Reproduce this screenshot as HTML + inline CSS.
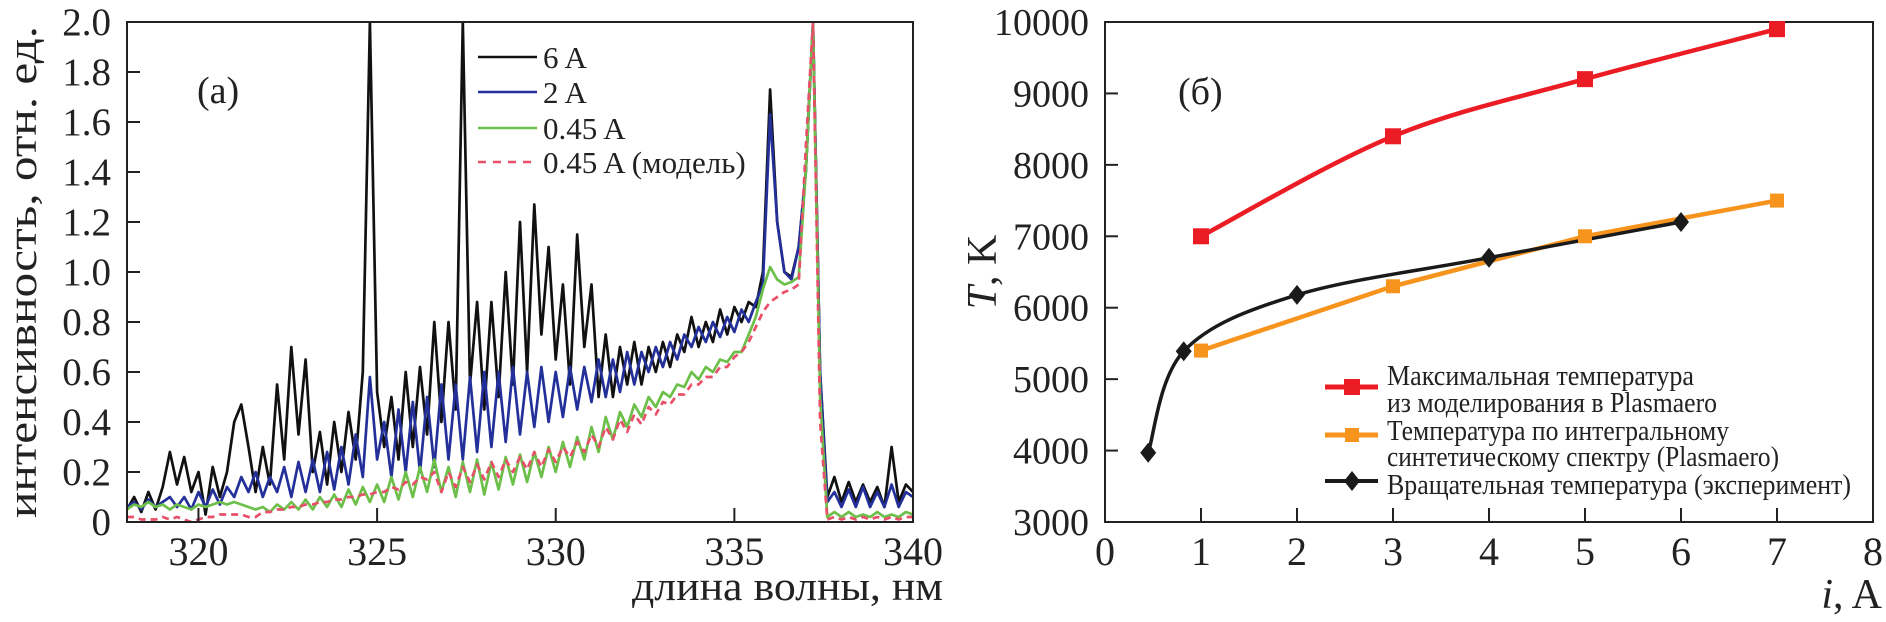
<!DOCTYPE html>
<html><head><meta charset="utf-8"><style>
html,body{margin:0;padding:0;background:#fff;}
svg{display:block;font-family:"Liberation Serif","DejaVu Serif",serif;}
</style></head><body>
<svg id="chart" width="1886" height="622" viewBox="0 0 1886 622" xmlns="http://www.w3.org/2000/svg">
<defs><clipPath id="clipA"><rect x="127" y="22" width="786" height="500"/></clipPath></defs>
<g id="panelA"></g>
<g id="panelB"></g>
</svg>
<script>
// ---------- Panel (a) data: intensity at 0.2 nm steps from 318 to 340 nm ----------
const waveStart = 318, waveStep = 0.2;
const xTicksA = [320, 325, 330, 335, 340];
const yTicksA = [0, 0.2, 0.4, 0.6, 0.8, 1.0, 1.2, 1.4, 1.6, 1.8, 2.0];
const yTickLabelsA = ["0","0.2","0.4","0.6","0.8","1.0","1.2","1.4","1.6","1.8","2.0"];
const series6A = [
0.05,0.10,0.04,0.12,0.05,0.14,0.28,0.15,0.26,0.12,
0.20,0.03,0.22,0.10,0.20,0.40,0.47,0.30,0.12,0.30,
0.15,0.55,0.25,0.70,0.35,0.65,0.20,0.36,0.15,0.40,
0.20,0.44,0.25,0.60,2.00,0.52,0.30,0.50,0.25,0.60,
0.30,0.62,0.35,0.80,0.40,0.80,0.45,2.00,0.55,0.88,
0.45,0.88,0.50,1.00,0.55,1.20,0.60,1.27,0.75,1.10,
0.65,0.95,0.55,1.15,0.70,0.95,0.50,0.75,0.50,0.70,
0.55,0.72,0.55,0.70,0.60,0.72,0.62,0.75,0.68,0.82,
0.70,0.80,0.72,0.85,0.75,0.86,0.80,0.88,0.86,1.00,
1.73,1.20,1.00,0.98,1.10,1.40,2.00,0.60,0.10,0.18,
0.08,0.16,0.08,0.15,0.08,0.14,0.06,0.30,0.08,0.15,
0.12];
const series2A = [
0.06,0.08,0.05,0.09,0.06,0.08,0.10,0.06,0.10,0.05,
0.12,0.06,0.13,0.07,0.14,0.10,0.18,0.12,0.20,0.10,
0.18,0.12,0.22,0.10,0.24,0.12,0.25,0.12,0.28,0.13,
0.30,0.15,0.35,0.18,0.58,0.25,0.40,0.18,0.45,0.20,
0.48,0.20,0.50,0.22,0.55,0.25,0.55,0.25,0.58,0.28,
0.60,0.30,0.60,0.32,0.62,0.35,0.60,0.38,0.62,0.40,
0.60,0.42,0.62,0.45,0.62,0.48,0.65,0.50,0.65,0.52,
0.68,0.55,0.68,0.60,0.70,0.62,0.72,0.65,0.75,0.70,
0.78,0.72,0.80,0.74,0.82,0.76,0.85,0.80,0.88,0.95,
1.63,1.20,1.00,0.97,1.10,1.40,2.00,0.60,0.08,0.12,
0.06,0.13,0.06,0.14,0.06,0.12,0.06,0.15,0.06,0.12,
0.10];
const series045A = [
0.05,0.07,0.06,0.08,0.06,0.07,0.05,0.07,0.06,0.05,
0.07,0.06,0.07,0.08,0.07,0.08,0.07,0.06,0.05,0.06,
0.04,0.07,0.05,0.08,0.05,0.09,0.05,0.10,0.06,0.11,
0.06,0.13,0.07,0.14,0.08,0.15,0.08,0.18,0.09,0.20,
0.10,0.22,0.12,0.25,0.12,0.22,0.10,0.24,0.12,0.25,
0.11,0.24,0.13,0.26,0.15,0.27,0.16,0.28,0.18,0.30,
0.20,0.32,0.22,0.34,0.25,0.38,0.28,0.42,0.33,0.44,
0.38,0.47,0.42,0.50,0.46,0.52,0.50,0.55,0.54,0.60,
0.57,0.62,0.60,0.65,0.64,0.68,0.68,0.75,0.82,0.93,
1.02,0.97,0.95,0.96,0.98,1.40,2.00,0.50,0.02,0.04,
0.02,0.04,0.02,0.03,0.02,0.04,0.02,0.03,0.02,0.04,
0.03];
const seriesModel = [
0.02,0.02,0.01,0.01,0.01,0.02,0.01,0.02,0.01,0.00,
0.01,0.02,0.02,0.03,0.03,0.03,0.03,0.02,0.02,0.04,
0.04,0.05,0.05,0.06,0.06,0.07,0.07,0.08,0.08,0.09,
0.09,0.10,0.10,0.11,0.11,0.12,0.12,0.14,0.13,0.16,
0.15,0.18,0.17,0.20,0.12,0.20,0.14,0.22,0.16,0.23,
0.17,0.24,0.18,0.25,0.20,0.26,0.21,0.28,0.22,0.29,
0.24,0.30,0.26,0.32,0.28,0.35,0.30,0.38,0.33,0.41,
0.36,0.43,0.39,0.46,0.43,0.48,0.47,0.51,0.51,0.55,
0.55,0.58,0.58,0.62,0.62,0.66,0.68,0.72,0.78,0.84,
0.88,0.90,0.92,0.93,0.95,1.50,2.00,0.40,0.01,0.02,
0.01,0.02,0.01,0.02,0.01,0.02,0.01,0.02,0.01,0.02,
0.02];
const legendA = ["6 A", "2 A", "0.45 A", "0.45 A (модель)"];

// ---------- Panel (б) data ----------
const xTicksB = [0,1,2,3,4,5,6,7,8];
const yTicksB = [3000,4000,5000,6000,7000,8000,9000,10000];
const maxTempI = [1, 3, 5, 7];
const maxTempT = [7000, 8400, 9200, 9900];
const synthTempI = [1, 3, 5, 7];
const synthTempT = [5400, 6300, 7000, 7500];
const rotTempI = [0.45, 0.82, 2, 4, 6];
const rotTempT = [3970, 5390, 6180, 6700, 7200];
const legendB = ["Максимальная температура","из моделирования в Plasmaero","Температура по интегральному","синтетическому спектру (Plasmaero)","Вращательная температура (эксперимент)"];

const NS = "http://www.w3.org/2000/svg";
function mk(parent, tag, attrs, text){
  const e = document.createElementNS(NS, tag);
  for (const k in attrs) e.setAttribute(k, attrs[k]);
  if (text !== undefined) e.textContent = text;
  parent.appendChild(e); return e;
}
const xA = v => 127 + (v - 318) * (786 / 22);
const yA = v => 522 - v * 250;
const xB = v => 1105 + v * 96;
const yB = v => 522 - (v - 3000) * (500 / 7000);

const A = document.getElementById('panelA');
const B = document.getElementById('panelB');

function drawSeries(vals, color, name, dash){
  let d = "";
  vals.forEach((v,i)=>{ const x = xA(waveStart + i*waveStep); d += (i? "L":"M") + x.toFixed(1) + "," + yA(v).toFixed(1); });
  const p = mk(A, 'path', {d:d, fill:'none', stroke:color, 'stroke-width':2.7, 'clip-path':'url(#clipA)', 'stroke-linejoin':'round'});
  if (dash) p.setAttribute('stroke-dasharray', dash);
  
  
}
drawSeries(series6A, '#111', 'series-6a');
drawSeries(series2A, '#23309a', 'series-2a');
drawSeries(series045A, '#6cc04a', 'series-0-45a');
drawSeries(seriesModel, '#e8506a', 'series-0-45a-model', '7,5');

const frameA = mk(A, 'rect', {x:127, y:22, width:786, height:500, fill:'none', stroke:'#222', 'stroke-width':2});


xTicksA.forEach(t=>{
  const x = xA(t);
  const tk = mk(A, 'line', {x1:x, x2:x, y1:522, y2:508, stroke:'#222', 'stroke-width':2});
  
  
  const lb = mk(A, 'text', {x:x, y:565, 'font-size':40, 'text-anchor':'middle', fill:'#222'}, String(t));
  
  
});
yTicksA.forEach((t,i)=>{
  const y = yA(t);
  const tk = mk(A, 'line', {x1:127, x2:140, y1:y, y2:y, stroke:'#222', 'stroke-width':2});
  
  
  const lb = mk(A, 'text', {x:111, y:y+13, 'font-size':39, 'text-anchor':'end', fill:'#222'}, yTickLabelsA[i]);
  
  
});
const yTitleA = mk(A, 'text', {x:0, y:0, 'font-size':41, 'text-anchor':'middle', fill:'#222', transform:'translate(36,272) rotate(-90)', textLength:492, lengthAdjust:'spacingAndGlyphs'}, 'интенсивность, отн. ед.');


const xTitleA = mk(A, 'text', {x:632, y:600, 'font-size':41, fill:'#222', textLength:311, lengthAdjust:'spacingAndGlyphs'}, 'длина волны, нм');


const tagA = mk(A, 'text', {x:197, y:103, 'font-size':38, fill:'#222'}, '(a)');


const legColorsA = ['#111','#23309a','#6cc04a','#e8506a'];
const legY = [57, 92, 128, 162];
legendA.forEach((s,i)=>{
  const g = mk(A, 'g', {});
  
  
  const ln = mk(g, 'line', {x1:478, x2:537, y1:legY[i], y2:legY[i], stroke:legColorsA[i], 'stroke-width':2.5});
  if (i===3) ln.setAttribute('stroke-dasharray','8,7');
  mk(g, 'text', {x:543, y:legY[i]+11, 'font-size':31, fill:'#222'}, s);
});

function catmull(xs, ys){
  const P = xs.map((v,i)=>[xB(v), yB(ys[i])]);
  let d = "M" + P[0][0] + "," + P[0][1];
  for (let i=0;i<P.length-1;i++){
    const p0 = P[Math.max(0,i-1)], p1 = P[i], p2 = P[i+1], p3 = P[Math.min(P.length-1,i+2)];
    const c1 = [p1[0]+(p2[0]-p0[0])/6, p1[1]+(p2[1]-p0[1])/6];
    const c2 = [p2[0]-(p3[0]-p1[0])/6, p2[1]-(p3[1]-p1[1])/6];
    d += "C"+c1[0].toFixed(1)+","+c1[1].toFixed(1)+" "+c2[0].toFixed(1)+","+c2[1].toFixed(1)+" "+p2[0].toFixed(1)+","+p2[1].toFixed(1);
  }
  return d;
}
const frameB = mk(B, 'rect', {x:1105, y:22, width:768, height:500, fill:'none', stroke:'#222', 'stroke-width':2});


xTicksB.forEach(t=>{
  const x = xB(t);
  const tk = mk(B, 'line', {x1:x, x2:x, y1:522, y2:508, stroke:'#222', 'stroke-width':2});
  
  
  const lb = mk(B, 'text', {x:x, y:565, 'font-size':40, 'text-anchor':'middle', fill:'#222'}, String(t));
  
  
});
yTicksB.forEach(t=>{
  const y = yB(t);
  const tk = mk(B, 'line', {x1:1105, x2:1118, y1:y, y2:y, stroke:'#222', 'stroke-width':2});
  
  
  const lb = mk(B, 'text', {x:1089, y:y+13, 'font-size':38, 'text-anchor':'end', fill:'#222'}, String(t));
  
  
});
const yTitleB = mk(B, 'text', {x:0, y:0, 'font-size':42, 'text-anchor':'middle', fill:'#222', transform:'translate(996,272) rotate(-90)'});


mk(yTitleB, 'tspan', {'font-style':'italic'}, 'T');
mk(yTitleB, 'tspan', {}, ', K');
const xTitleB = mk(B, 'text', {x:1882, y:608, 'font-size':42, 'text-anchor':'end', fill:'#222'});


mk(xTitleB, 'tspan', {'font-style':'italic'}, 'i');
mk(xTitleB, 'tspan', {}, ', A');
const tagB = mk(B, 'text', {x:1178, y:104, 'font-size':38, fill:'#222'}, '(б)');



const redPath = mk(B, 'path', {d:catmull(maxTempI, maxTempT), fill:'none', stroke:'#ec1c24', 'stroke-width':4.5});


let od = "";
synthTempI.forEach((v,i)=>{ od += (i?"L":"M") + xB(v) + "," + yB(synthTempT[i]); });
const orPath = mk(B, 'path', {d:od, fill:'none', stroke:'#f7941d', 'stroke-width':4.5});


const bkPath = mk(B, 'path', {d:catmull(rotTempI, rotTempT), fill:'none', stroke:'#1a1a1a', 'stroke-width':3.5});


maxTempI.forEach((v,i)=>{
  const r = mk(B, 'rect', {x:xB(v)-8, y:yB(maxTempT[i])-8, width:16, height:16, fill:'#ec1c24'});
  
  
});
synthTempI.forEach((v,i)=>{
  const r = mk(B, 'rect', {x:xB(v)-7, y:yB(synthTempT[i])-7, width:14, height:14, fill:'#f7941d'});
  
  
});
rotTempI.forEach((v,i)=>{
  const x = xB(v), y = yB(rotTempT[i]);
  const r = mk(B, 'path', {d:`M${x},${y-10}L${x+8},${y}L${x},${y+10}L${x-8},${y}Z`, fill:'#1a1a1a'});
  
  
});
const lgB = mk(B, 'g', {});


const mkY = [387, 435, 481];
mk(lgB, 'line', {x1:1325, x2:1378, y1:mkY[0], y2:mkY[0], stroke:'#ec1c24', 'stroke-width':5});
mk(lgB, 'rect', {x:1344, y:mkY[0]-8, width:16, height:16, fill:'#ec1c24'});
mk(lgB, 'line', {x1:1325, x2:1378, y1:mkY[1], y2:mkY[1], stroke:'#f7941d', 'stroke-width':5});
mk(lgB, 'rect', {x:1345, y:mkY[1]-7, width:14, height:14, fill:'#f7941d'});
mk(lgB, 'line', {x1:1325, x2:1378, y1:mkY[2], y2:mkY[2], stroke:'#1a1a1a', 'stroke-width':4});
mk(lgB, 'path', {d:`M1352,${mkY[2]-10}L1360,${mkY[2]}L1352,${mkY[2]+10}L1344,${mkY[2]}Z`, fill:'#1a1a1a'});
const lgBase = [385, 412, 440, 466, 494];
const lgEnd = [1694, 1717, 1729, 1779, 1851];
legendB.forEach((s,i)=>{
  const t = mk(lgB, 'text', {x:1387, y:lgBase[i], 'font-size':28, fill:'#222', textLength:lgEnd[i]-1387, lengthAdjust:'spacingAndGlyphs'}, s);
  
  
});
</script>
</body></html>
